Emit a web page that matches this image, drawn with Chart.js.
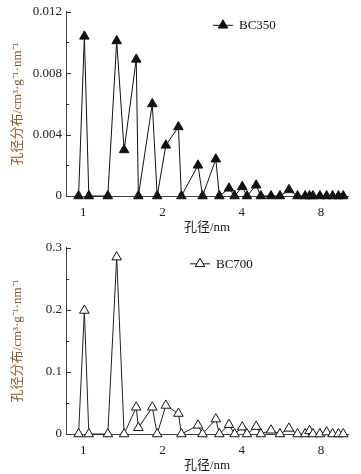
<!DOCTYPE html>
<html>
<head>
<meta charset="utf-8">
<script src="https://cdn.jsdelivr.net/npm/chart.js@4.4.1/dist/chart.umd.min.js"></script>
<style>
  html, body { margin: 0; padding: 0; background: #fff; }
  body { width: 361px; height: 474px; position: relative; overflow: hidden; }
  .panel { position: absolute; left: 0; width: 361px; }
  #p1 { top: 0; height: 236px; }
  #p2 { top: 236px; height: 238px; }
</style>
</head>
<body>
<div class="panel" id="p1"><canvas id="c1" width="361" height="236"></canvas></div>
<div class="panel" id="p2"><canvas id="c2" width="361" height="238"></canvas></div>
<script>
// ---- data ----
const poreWidth = [0.96, 1.01, 1.05, 1.24, 1.34, 1.43, 1.59, 1.62, 1.83, 1.91,
                   2.06, 2.30, 2.36, 2.73, 2.84, 3.19, 3.29, 3.58, 3.76, 4.02,
                   4.19, 4.54, 4.73, 5.17, 5.59, 6.05, 6.52, 6.97, 7.24, 7.46,
                   7.93, 8.41, 8.86, 9.33, 9.73];
const bc350 = [0, 0.0104, 0, 0, 0.0101, 0.0030, 0.0089, 0, 0.0060, 0,
               0.0033, 0.0045, 0, 0.0020, 0, 0.0024, 0, 0.0005, 0, 0.0006,
               0, 0.0007, 0, 0, 0, 0.0004, 0, 0, 0, 0,
               0, 0, 0, 0, 0];
const bc700 = [0, 0.199, 0, 0, 0.285, 0, 0.043, 0.010, 0.043, 0,
               0.046, 0.033, 0, 0.014, 0, 0.024, 0, 0.015, 0, 0.011,
               0, 0.012, 0, 0.006, 0, 0.009, 0, 0, 0.005, 0,
               0, 0.003, 0, 0, 0];
const xTicks = [1, 2, 4, 8];
const yTicks350 = [0, 0.004, 0.008, 0.012];
const yTicks700 = [0, 0.1, 0.2, 0.3];
const xTitle = '孔径/nm';
const yTitle = '孔径分布/cm³·g⁻¹·nm⁻¹';

const SERIF = '"Liberation Serif", "Noto Sans CJK SC", serif';

const inwardTicks = {
  id: 'inwardTicks',
  afterDraw(chart, args, opts) {
    const y = chart.scales.y;
    const ctx = chart.ctx;
    const ticks = opts.ticks;
    ctx.save();
    ctx.strokeStyle = '#333';
    ctx.lineWidth = 1;
    const vals = [];
    for (let i = 0; i < ticks.length; i++) {
      vals.push([ticks[i], 5]);
      if (i < ticks.length - 1) vals.push([(ticks[i] + ticks[i + 1]) / 2, 3]);
    }
    vals.forEach(([v, len]) => {
      const py = Math.round(y.getPixelForValue(v)) + 0.5;
      ctx.beginPath();
      ctx.moveTo(chart.chartArea.left, py);
      ctx.lineTo(chart.chartArea.left + len, py);
      ctx.stroke();
    });
    ctx.restore();
  }
};

const lineLegend = {
  id: 'lineLegend',
  afterDraw(chart, args, opts) {
    const ds = chart.data.datasets[0];
    const ctx = chart.ctx;
    const x0 = chart.chartArea.left + opts.dx;
    const y0 = chart.chartArea.top + opts.dy;
    ctx.save();
    ctx.strokeStyle = '#111';
    ctx.lineWidth = 1;
    ctx.beginPath();
    ctx.moveTo(x0, y0);
    ctx.lineTo(x0 + 20, y0);
    ctx.stroke();
    ctx.fillStyle = ds.pointBackgroundColor;
    Chart.helpers.drawPoint(ctx, { pointStyle: 'triangle', radius: 5.5, rotation: 0, borderWidth: 1 }, x0 + 10, y0);
    ctx.fillStyle = '#111';
    ctx.font = '13px ' + SERIF;
    ctx.textBaseline = 'middle';
    ctx.textAlign = 'left';
    ctx.fillText(ds.label, x0 + 26, y0 + 0.5);
    ctx.restore();
  }
};

function makeChart(canvasId, label, values, yTicks, fill, lineColor, padTop, legendPos) {
  const ymax = yTicks[yTicks.length - 1];
  return new Chart(document.getElementById(canvasId), {
    type: 'line',
    data: {
      labels: poreWidth,
      datasets: [{
        label: label,
        data: poreWidth.map((x, i) => ({ x: x, y: values[i] })),
        borderColor: lineColor,
        borderWidth: 1,
        pointStyle: 'triangle',
        pointRadius: 5.5,
        pointHoverRadius: 5.5,
        pointBackgroundColor: fill,
        pointBorderColor: '#111',
        pointBorderWidth: 1,
        tension: 0,
        clip: false
      }]
    },
    options: {
      responsive: false,
      animation: false,
      events: [],
      layout: { padding: { left: 0, right: 13, top: padTop, bottom: 0 } },
      plugins: {
        legend: { display: false },
        tooltip: { enabled: false },
        inwardTicks: { ticks: yTicks },
        lineLegend: legendPos
      },
      scales: {
        x: {
          type: 'logarithmic',
          min: 0.86,
          max: 10.14,
          afterBuildTicks: (s) => { s.ticks = xTicks.map(v => ({ value: v })); },
          afterFit: (s) => { s.height = 40; },
          grid: { display: true, color: 'rgba(0,0,0,0)', drawTicks: false },
          border: { display: true, color: '#444', width: 1 },
          ticks: {
            padding: 9,
            color: '#1a1a2a',
            font: { family: SERIF, size: 13 },
            maxRotation: 0,
            autoSkip: false,
            callback: (v) => String(v)
          },
          title: {
            display: true,
            text: xTitle,
            color: '#1a1a1a',
            font: { family: SERIF, size: 13 },
            padding: { top: 0, bottom: 1 }
          }
        },
        y: {
          min: 0,
          max: ymax,
          afterBuildTicks: (s) => { s.ticks = yTicks.map(v => ({ value: v })); },
          afterFit: (s) => { s.width = 66; },
          grid: { display: true, color: 'rgba(0,0,0,0)', drawTicks: false },
          border: { display: true, color: '#444', width: 1 },
          ticks: {
            padding: 4,
            color: '#1a1a2a',
            font: { family: SERIF, size: 13 },
            callback: (v) => (v === 0 ? '0' : String(+v.toFixed(4)))
          },
          title: {
            display: true,
            text: yTitle,
            color: '#8a5a2b',
            font: { family: SERIF, size: 13 },
            padding: { top: 10, bottom: 0 }
          }
        }
      }
    },
    plugins: [inwardTicks, lineLegend]
  });
}

makeChart('c1', 'BC350', bc350, yTicks350, '#111', '#111', 9, { dx: 147, dy: 13.5 });
makeChart('c2', 'BC700', bc700, yTicks700, '#fff', '#222', 10.7, { dx: 124, dy: 16 });
</script>
</body>
</html>
